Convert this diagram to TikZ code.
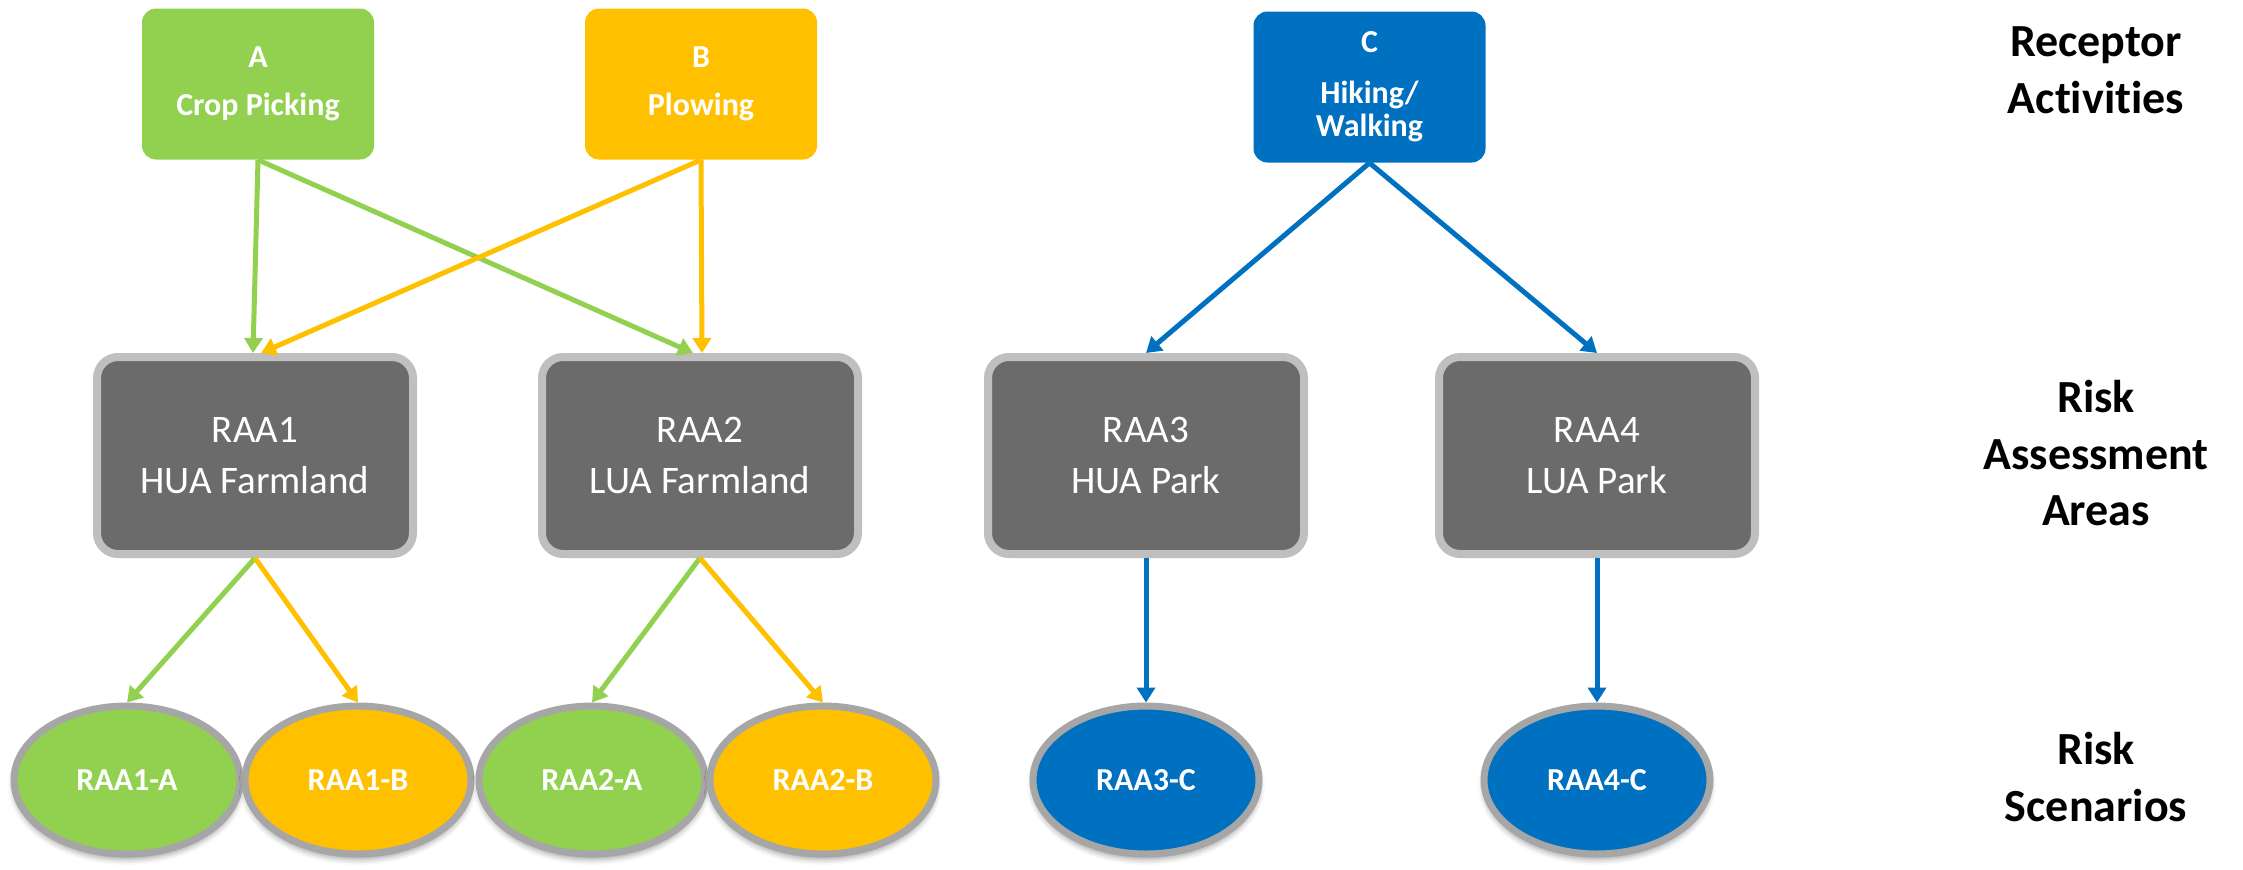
\documentclass[tikz,border=0pt]{standalone}
\usepackage{fontspec}
\setmainfont{Carlito}[Ligatures=NoCommon]
\usetikzlibrary{arrows.meta,shapes.geometric,shadows.blur}

\definecolor{actgreen}{HTML}{92D050}
\definecolor{actorange}{HTML}{FFC000}
\definecolor{actblue}{HTML}{0070C0}
\definecolor{areafill}{HTML}{6B6B6B}
\definecolor{areaborder}{HTML}{BFBFBF}
\definecolor{scenborder}{HTML}{A6A6A6}

\begin{document}
\begin{tikzpicture}[x=0.5pt,y=-0.5pt,
  activity/.style={rounded corners=7pt, minimum width=116pt, minimum height=75.5pt,
    inner sep=0pt, text=white, align=center,
    font=\bfseries\fontsize{16}{19}\selectfont},
  area/.style={rounded corners=10.5pt, draw=areaborder, line width=4pt, fill=areafill,
    minimum width=158pt, minimum height=98.5pt, inner sep=0pt, text=white,
    align=center, font=\fontsize{19.5}{25.5}\selectfont},
  scenario/.style={ellipse, draw=scenborder, line width=3.5pt,
    minimum width=113pt, minimum height=74pt, inner sep=0pt, text=white,
    font=\bfseries\fontsize{16}{19}\selectfont,
    blur shadow={shadow xshift=0pt, shadow yshift=-2.5pt,
      shadow blur radius=3pt, shadow opacity=40}},
  link/.style={line width=2.5pt, -{Triangle[width=9pt,length=7.5pt]}},
  tier/.style={align=center, font=\bfseries\fontsize{23}{28.25}\selectfont}
]
\useasboundingbox (0,0) rectangle (2243,869);

% receptor activities
\node[activity, fill=actgreen]  (A) at (258,84) {A\\[5pt]Crop Picking};
\node[activity, fill=actorange] (B) at (701,84) {B\\[5pt]Plowing};
\node[activity, fill=actblue, font=\bfseries\fontsize{16}{16.5}\selectfont]
  (C) at (1369.5,87) {C\\[9pt]Hiking/\\Walking};

% risk assessment areas
\node[area] (R1) at (255,455.5)  {RAA1\\HUA Farmland};
\node[area] (R2) at (700,455.5)  {RAA2\\LUA Farmland};
\node[area] (R3) at (1146,455.5) {RAA3\\HUA Park};
\node[area] (R4) at (1597,455.5) {RAA4\\LUA Park};

% risk scenarios
\node[scenario, fill=actgreen]  (E1A) at (127,780)  {RAA1-A};
\node[scenario, fill=actorange] (E1B) at (358,780)  {RAA1-B};
\node[scenario, fill=actgreen]  (E2A) at (592,780)  {RAA2-A};
\node[scenario, fill=actorange] (E2B) at (823,780)  {RAA2-B};
\node[scenario, fill=actblue]   (E3C) at (1146,780) {RAA3-C};
\node[scenario, fill=actblue]   (E4C) at (1597,780) {RAA4-C};

% tier labels
\node[tier] (T1) at (2096,70)    {Receptor\\Activities};
\node[tier] (T2) at (2096,453.5) {Risk\\Assessment\\Areas};
\node[tier] (T3) at (2096,777)   {Risk\\Scenarios};

% activities to areas
\draw[link, actgreen]  (A.south) -- ([xshift=-1pt]R1.north);
\draw[link, actgreen]  (A.south) -- ([xshift=-3.5pt]R2.north);
\draw[link, actorange] (B.south) -- ([xshift=3pt]R1.north);
\draw[link, actorange] (B.south) -- ([xshift=1pt]R2.north);
\draw[link, actblue]   (C.south) -- (R3.north);
\draw[link, actblue]   (C.south) -- (R4.north);

% areas to scenarios
\draw[link, actgreen]  (R1.south) -- (E1A.north);
\draw[link, actorange] (R1.south) -- (E1B.north);
\draw[link, actgreen]  (R2.south) -- (E2A.north);
\draw[link, actorange] (R2.south) -- (E2B.north);
\draw[link, actblue]   (R3.south) -- (E3C.north);
\draw[link, actblue]   (R4.south) -- (E4C.north);
\end{tikzpicture}
\end{document}
